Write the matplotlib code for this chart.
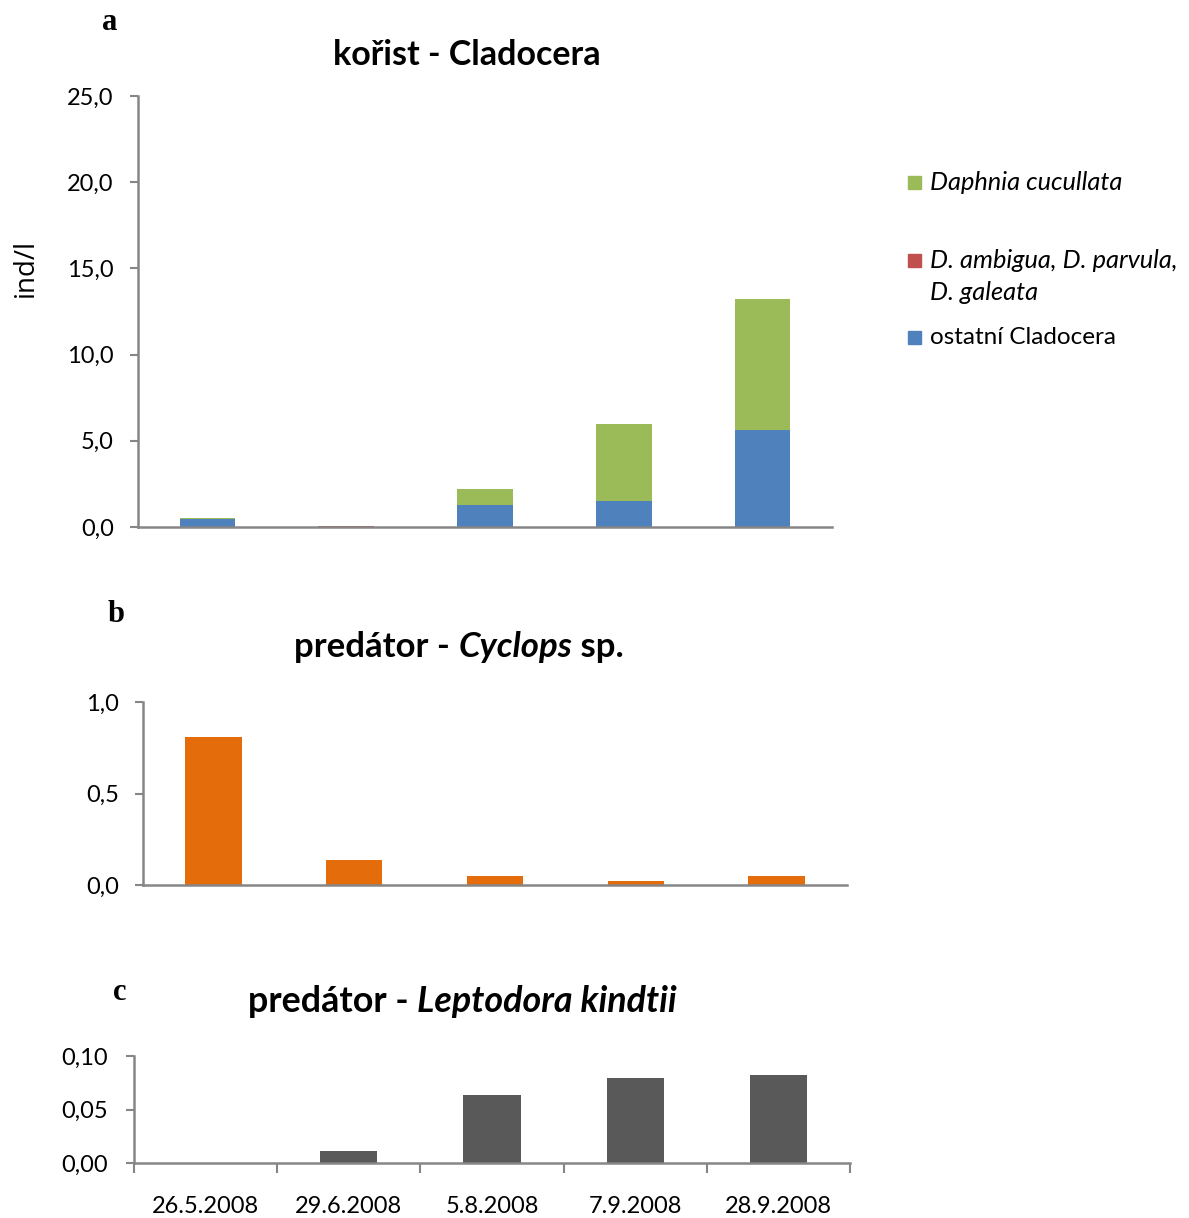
import matplotlib
matplotlib.use("Agg")
import matplotlib.pyplot as plt
from matplotlib.patches import Rectangle
from matplotlib.offsetbox import TextArea, HPacker, AnnotationBbox
from matplotlib.ticker import FuncFormatter, FixedLocator
import numpy as np

# Sampling dates
dates = ["26.5.2008", "29.6.2008", "5.8.2008", "7.9.2008", "28.9.2008"]

# Prey: Cladocera (ind/l), stacked
ostatni_cladocera = [0.45, 0.00, 1.28, 1.50, 5.63]
d_ambigua_parvula_galeata = [0.00, 0.06, 0.00, 0.00, 0.00]
daphnia_cucullata = [0.05, 0.02, 0.92, 4.47, 7.59]

# Predators (ind/l)
cyclops = [0.81, 0.137, 0.049, 0.02, 0.049]
leptodora = [0.0, 0.0115, 0.0638, 0.079, 0.082]

GREEN = "#9BBB59"
RED = "#C0504D"
BLUE = "#4F81BD"
ORANGE = "#E46C0A"
DARK = "#595959"
AXIS = "#868686"

FONT = "Lato"
plt.rcParams["font.family"] = [FONT, "DejaVu Sans"]

W, H = 1189, 1218
fig = plt.figure(figsize=(W / 100, H / 100), dpi=100)


def box(l, t, r, b):
    return [l / W, 1 - b / H, (r - l) / W, (b - t) / H]


def style_axes(ax, ymax, step, decimals, pad):
    for s in ("top", "right"):
        ax.spines[s].set_visible(False)
    for s in ("left", "bottom"):
        ax.spines[s].set_color(AXIS)
        ax.spines[s].set_linewidth(1.8)
    ax.set_xlim(-0.5, len(dates) - 0.5)
    ax.set_ylim(0, ymax)
    ax.yaxis.set_major_locator(FixedLocator(np.arange(0, ymax + step / 2, step)))
    ax.yaxis.set_major_formatter(
        FuncFormatter(lambda v, p: f"{v:.{decimals}f}".replace(".", ",")))
    ax.tick_params(axis="y", length=5.5, width=1.5, color=AXIS, labelsize=17,
                   pad=pad, labelcolor="black")
    ax.tick_params(axis="x", length=0)
    ax.set_xticks(range(len(dates)))
    ax.set_xticklabels([])


x = np.arange(len(dates))
bw = 0.4

# Panel a
axa = fig.add_axes(box(138, 96, 832, 527))
bottom = np.zeros(len(dates))
for vals, col in ((ostatni_cladocera, BLUE), (d_ambigua_parvula_galeata, RED),
                  (daphnia_cucullata, GREEN)):
    axa.bar(x, vals, bw, bottom=bottom, color=col, edgecolor="none", zorder=2)
    bottom += np.array(vals)
style_axes(axa, 25, 5, 1, 12)
fig.text(26 / W, 1 - 268 / H, "ind/l", family="Open Sans", fontsize=20,
         rotation=90, ha="center", va="center")

# Panel b
axb = fig.add_axes(box(143, 702, 847, 885))
axb.bar(x, cyclops, bw, color=ORANGE, edgecolor="none", zorder=2)
style_axes(axb, 1.0, 0.5, 1, 12)

# Panel c
axc = fig.add_axes(box(134, 1056, 850, 1163))
axc.bar(x, leptodora, bw, color=DARK, edgecolor="none", zorder=2)
style_axes(axc, 0.10, 0.05, 2, 13)
axc.set_xticklabels(dates)
axc.tick_params(axis="x", which="major", length=0, pad=24, labelsize=17)
axc.set_xticks(np.arange(-0.5, len(dates), 1.0), minor=True)
axc.tick_params(axis="x", which="minor", length=7, width=1.5, color=AXIS)

# Panel letters
for letter, px, py in (("a", 110, 22), ("b", 116, 614), ("c", 120, 992)):
    fig.text(px / W, 1 - py / H, letter, family="Liberation Serif",
             weight="bold", fontsize=22, ha="center", va="center")


# Titles with mixed upright / italic pieces
def title(pieces, cx, cy, size):
    areas = [TextArea(t, textprops=dict(fontsize=size, weight="bold",
                                        style=st, family=FONT))
             for t, st in pieces]
    pack = HPacker(children=areas, pad=0, sep=0, align="baseline")
    ab = AnnotationBbox(pack, (cx / W, 1 - cy / H), xycoords="figure fraction",
                        frameon=False, box_alignment=(0.5, 0.5), pad=0)
    fig.add_artist(ab)


title([("kořist - Cladocera", "normal")], 467, 55, 24.5)
title([("predátor - ", "normal"), ("Cyclops", "italic"), (" sp.", "normal")],
      459, 647, 25)
title([("predátor - ", "normal"), ("Leptodora kindtii", "italic")], 462, 1002,
      25.8)

# Legend for panel a
legend_items = [
    (GREEN, ["Daphnia cucullata"], "italic", 182, 18.3),
    (RED, ["D. ambigua, D. parvula,", "D. galeata"], "italic", 260, 18.3),
    (BLUE, ["ostatní Cladocera"], "normal", 337, 17.5),
]
for col, lines, st, py, fs in legend_items:
    fig.add_artist(Rectangle((908 / W, 1 - (py + 7) / H), 13 / W, 13 / H,
                             transform=fig.transFigure, color=col))
    for i, line in enumerate(lines):
        fig.text(930 / W, 1 - (py + i * 32) / H, line, fontsize=fs, style=st,
                 ha="left", va="center")

fig.savefig("out.png", dpi=100)
